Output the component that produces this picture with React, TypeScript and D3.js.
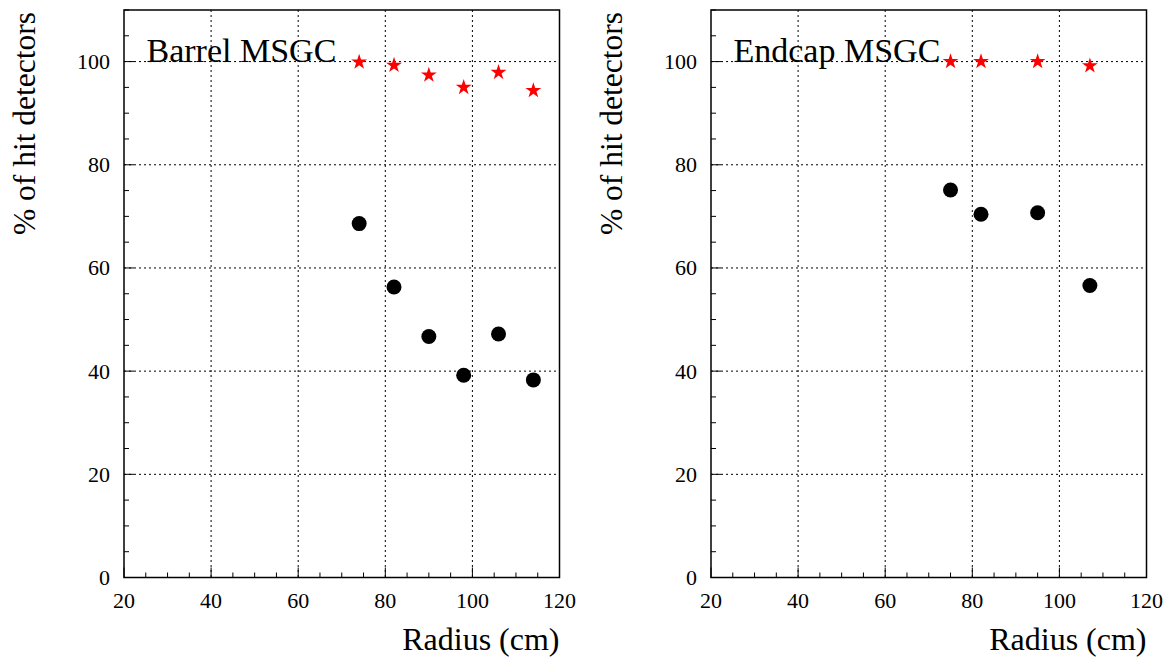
import React from "react";
import * as d3 from "d3";

const barrelRadius = [74, 82, 90, 98, 106, 114];
const barrelStars = [99.9, 99.3, 97.4, 95.0, 97.9, 94.4];
const barrelDots = [68.6, 56.3, 46.7, 39.2, 47.2, 38.3];

const endcapRadius = [75, 82, 95, 107];
const endcapStars = [100.0, 100.0, 100.0, 99.2];
const endcapDots = [75.1, 70.4, 70.7, 56.6];

const xTicks = [20, 40, 60, 80, 100, 120];
const yTicks = [0, 20, 40, 60, 80, 100];

const FONT = "Liberation Serif";

type PanelProps = {
  left: number;
  label: string;
  radius: number[];
  stars: number[];
  dots: number[];
};

const W = 435.5;
const TOP = 10;
const BOTTOM = 577.5;

function Panel({ left, label, radius, stars, dots }: PanelProps) {
  const x = d3.scaleLinear().domain([20, 120]).range([left, left + W]);
  const y = d3.scaleLinear().domain([0, 110]).range([BOTTOM, TOP]);
  const minorX = d3.range(20, 121, 5).filter((v) => v % 20 !== 0);
  const minorY = d3.range(0, 111, 5).filter((v) => v % 20 !== 0);
  const star = d3.symbol().type(d3.symbolStar).size(78)() as string;
  const ts = { fontFamily: FONT };
  return (
    <g>
      {xTicks.slice(1, -1).map((t) => (
        <line key={"gx" + t} x1={x(t)} x2={x(t)} y1={TOP} y2={BOTTOM} stroke="#000" strokeWidth={1} strokeDasharray="2,3" />
      ))}
      {yTicks.slice(1).map((t) => (
        <line key={"gy" + t} x1={left} x2={left + W} y1={y(t)} y2={y(t)} stroke="#000" strokeWidth={1} strokeDasharray="2,3" />
      ))}
      {minorX.map((t) => (
        <line key={"mx" + t} x1={x(t)} x2={x(t)} y1={BOTTOM} y2={BOTTOM - 5} stroke="#000" strokeWidth={1} />
      ))}
      {xTicks.map((t) => (
        <line key={"Mx" + t} x1={x(t)} x2={x(t)} y1={BOTTOM} y2={BOTTOM - 10} stroke="#000" strokeWidth={1} />
      ))}
      {minorY.map((t) => (
        <line key={"my" + t} x1={left} x2={left + 5} y1={y(t)} y2={y(t)} stroke="#000" strokeWidth={1} />
      ))}
      {yTicks.map((t) => (
        <line key={"My" + t} x1={left} x2={left + 10} y1={y(t)} y2={y(t)} stroke="#000" strokeWidth={1} />
      ))}
      <rect x={left} y={TOP} width={W} height={BOTTOM - TOP} fill="none" stroke="#000" strokeWidth={1.5} />
      {xTicks.map((t) => (
        <text key={"lx" + t} x={x(t)} y={608} textAnchor="middle" style={ts} fontSize={22}>
          {t}
        </text>
      ))}
      {yTicks.map((t) => (
        <text key={"ly" + t} x={left - 14} y={y(t) + 7.5} textAnchor="end" style={ts} fontSize={22}>
          {t}
        </text>
      ))}
      <text x={left + W} y={650} textAnchor="end" style={ts} fontSize={32}>
        Radius (cm)
      </text>
      <text
        transform={`translate(${left - 89},${TOP + 2}) rotate(-90)`}
        textAnchor="end"
        style={ts}
        fontSize={31.5}
      >
        % of hit detectors
      </text>
      <text x={left + 22.5} y={61.7} style={ts} fontSize={34}>
        {label}
      </text>
      {radius.map((r, i) => (
        <circle key={"c" + i} cx={x(r)} cy={y(dots[i])} r={7.5} fill="#000" />
      ))}
      {radius.map((r, i) => (
        <path key={"s" + i} d={star} transform={`translate(${x(r)},${y(stars[i])})`} fill="#ff0000" />
      ))}
    </g>
  );
}

export default function App() {
  return (
    <svg
      width={1168}
      height={661}
      style={{ position: "absolute", left: 0, top: 0, background: "#fff" }}
    >
      <rect x={0} y={0} width={1168} height={661} fill="#fff" />
      <Panel left={124} label="Barrel MSGC" radius={barrelRadius} stars={barrelStars} dots={barrelDots} />
      <Panel left={711} label="Endcap MSGC" radius={endcapRadius} stars={endcapStars} dots={endcapDots} />
    </svg>
  );
}
